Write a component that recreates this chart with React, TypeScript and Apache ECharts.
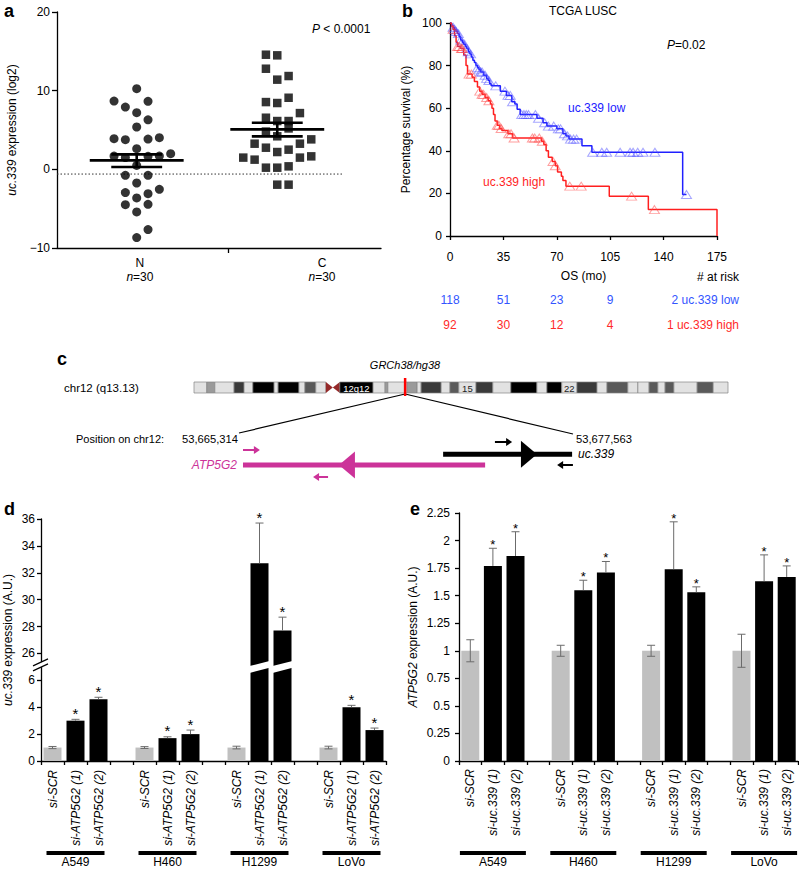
import React, { useEffect, useRef } from 'react';
import * as echarts from 'echarts';

const FONT = '"Liberation Sans", Arial, Helvetica, sans-serif';

/* ---------------- panel a : dot plot ---------------- */
const aGroups = ['N', 'C'];
const aCounts = [30, 30];
const nValues = [10.25, 8.68, 8.64, 7.92, 7.2, 6.3, 5.38, 3.9, 3.77, 3.85, 4.03, 2.63, 1.69, 1.49, 1.65, 1.69, 1.99, 0.5, -0.76, -0.76, -1.74, -2.54, -2.96, -3.09, -3.64, -4.49, -4.45, -5.42, -7.66, -8.68];
const nColumns = [0, -2, 1, -1, 0, 1, 0, -2, -1, 1, 2, 0, -2, -1, 1, 2, 3, 0, -1, 1, 0, 2, -1, 1, 0, -1, 1, 0, 1, 0];
const cValues = [14.57, 14.49, 12.79, 11.4, 11.86, 8.55, 8.43, 9.1, 7.15, 6.56, 6.14, 6.14, 4.8, 5.2, 4.2, 3.26, 3.26, 3.81, 2.75, 2.2, 2.5, 1.49, 1.23, 1.49, 1.65, 0.21, 0.21, 0.38, -1.95, -1.95];
const cColumns = [-1, 0, -1, 0, 1, -1, 0, 1, 2, -1, 0, 1, -1, 1, 0, -2, 2, 3, -1, 0, 1, -3, -2, 2, 3, -1, 0, 1, 0, 1];
const aMeans = [1.14, 5.08];
const aSemUpper = [1.9, 5.93];
const aSemLower = [0.29, 4.19];
const aThreshold = -0.6;

/* ---------------- panel b : Kaplan-Meier ---------------- */
const kmGroups = ['uc.339 low', 'uc.339 high'];
const lowTimes = [0, 1, 2, 3, 4, 5, 6, 7, 8, 9, 10, 11, 12, 13, 14, 15, 16, 17, 18, 19, 20, 22, 24, 25, 26, 27, 33, 37, 40.5, 42.5, 44, 46, 57, 61, 63.5, 70, 74, 76, 78, 86.5, 93, 152.5, 155];
const lowSurv = [100, 99, 98, 97, 96, 95, 93.5, 92, 91, 90, 89, 88, 86.5, 85.5, 84, 82.5, 81.5, 80, 79, 78, 77, 75.5, 74, 73, 71.5, 70.5, 68, 66, 63, 62, 59.5, 57, 55.3, 53.2, 51.6, 50.3, 48, 47, 45.5, 42.4, 39.3, 19.5, 19.5];
const highTimes = [0, 1, 2, 3, 4, 5, 7, 9, 10.5, 11.5, 14.5, 16, 18, 19.5, 21, 23, 25, 26.5, 27.5, 28.5, 29.5, 31, 32.5, 34, 38, 41, 60, 61.5, 63, 64.5, 67, 69, 70.5, 73, 74, 76, 104.4, 130, 175];
const highSurv = [100, 98.5, 97, 94, 91, 89, 88, 85, 80, 76, 74.5, 72.5, 70, 68, 66.5, 65, 63.5, 62, 60, 57, 54, 52, 50.5, 49.5, 48, 46, 44.5, 43, 40, 37, 35, 33, 30, 28, 26, 23.4, 18.7, 12.4, 0];
const lowCensored = [2, 3, 4, 5.5, 7, 8, 9.5, 11, 12, 13.5, 18, 19, 20, 21, 23, 24, 25.5, 30, 36, 38, 39.5, 41, 47, 48.5, 50, 51.5, 56, 58, 62, 64.5, 68, 71, 72.5, 75, 77, 79, 81, 83, 93.5, 99.5, 102.7, 111.5, 118, 120, 123, 126.5, 134.3, 155];
const highCensored = [2, 5, 6, 7.5, 8, 12.5, 14, 19.5, 21, 22, 24, 25.5, 31, 32, 33.5, 38.5, 40, 42, 54, 55.5, 58.5, 60.5, 67.5, 69, 78.5, 86, 119, 134];
const riskTimes = [0, 35, 70, 105, 140];
const riskLow = [118, 51, 23, 9, 2];
const riskHigh = [92, 30, 12, 4, 1];

/* ---------------- panel c : locus ---------------- */
const ideoStart = [0, 3.2, 5.2, 10.0, 12.5, 14.7, 20.0, 21.0, 26.2, 27.7, 30.4, 32.9, 36.4, 44.7, 47.7, 48.4, 53.2, 55.7, 56.7, 61.7, 63.9, 66.1, 70.4, 74.6, 79.1, 85.6, 88.1, 91.8, 95.6, 100.6, 103.1, 108.3, 110.8, 113.6, 115.8, 117.6, 119.8, 125.6, 129.6];
const ideoEnd = [3.2, 5.2, 10.0, 12.5, 14.7, 20.0, 21.0, 26.2, 27.7, 30.4, 32.9, 36.4, 44.7, 47.7, 48.4, 53.2, 55.7, 56.7, 61.7, 63.9, 66.1, 70.4, 74.6, 79.1, 85.6, 88.1, 91.8, 95.6, 100.6, 103.1, 108.3, 110.8, 113.6, 115.8, 117.6, 119.8, 125.6, 129.6, 133.3];
// 0 gneg, 1 gpos25, 2 gpos50, 3 gpos75, 4 gpos100, 5 acen
const ideoStain = [0, 1, 0, 3, 0, 4, 0, 4, 0, 2, 0, 5, 4, 0, 1, 0, 1, 0, 3, 0, 2, 0, 3, 0, 4, 0, 4, 0, 3, 0, 2, 0, 0, 2, 0, 2, 0, 2, 0];
const ideoLabel = ['', '', '', '', '', '', '', '', '', '', '', '', '12q12', '', '', '', '', '', '', '', '', '15', '', '', '', '', '', '22', '', '', '', '', '', '', '', '', '', '', ''];
const ideoLength = 133.3;
const ideoMarkPos = 52.7;
const geneAxisMin = 53665314;
const geneAxisMax = 53677563;
const geneNames = ['ATP5G2', 'uc.339'];
const geneStart = [53665460, 53672800];
const geneEnd = [53674340, 53677530];
const geneArrowTip = [53668980, 53676240];
const geneStrand = [-1, 1];
const primerFrom = [53665460, 53668580, 53674700, 53677560];
const primerTo = [53666080, 53668030, 53675330, 53676980];
const primerGene = [0, 0, 1, 1];

/* ---------------- panels d / e : bars ---------------- */
const cellLines = ['A549', 'H460', 'H1299', 'LoVo'];
const dTreatments = ['si-SCR', 'si-ATP5G2 (1)', 'si-ATP5G2 (2)'];
const dMeans = [[1.0, 3.0, 4.6], [1.0, 1.7, 2.0], [1.0, 32.7, 27.7], [1.0, 4.0, 2.3]];
const dErrors = [[0.08, 0.1, 0.14], [0.07, 0.1, 0.3], [0.1, 3.0, 1.0], [0.1, 0.14, 0.15]];
const dSignificant = [[0, 1, 1], [0, 1, 1], [0, 1, 1], [0, 1, 1]];
const dTickValues = [0, 2, 4, 6, 26, 28, 30, 32, 34, 36];
const eTreatments = ['si-SCR', 'si-uc.339 (1)', 'si-uc.339 (2)'];
const eMeans = [[1.0, 1.77, 1.86], [1.0, 1.55, 1.71], [1.0, 1.74, 1.53], [1.0, 1.63, 1.67]];
const eErrors = [[0.1, 0.16, 0.22], [0.05, 0.09, 0.1], [0.05, 0.43, 0.05], [0.15, 0.24, 0.1]];
const eSignificant = [[0, 1, 1], [0, 1, 1], [0, 1, 1], [0, 1, 1]];

/* ---------------- styling / layout ---------------- */
const BLUE = '#2020ff';
const RED = '#ff1f1f';
const BLUE_TXT = '#3355ff';
const RED_TXT = '#ff2a2a';
const MAGENTA = '#cc3399';
const GREY_BAR = '#c0c0c0';
const ERR = '#6b6b6b';
const STAIN = ['#e2e2e2', '#9a9a9a', '#5a5a5a', '#3a3a3a', '#000000'];
const ACEN = '#952a2a';

const A_XMIN = 0.433, A_XMAX = 2.738, A_COL = 0.0806, A_MEAN_HALF = 0.334, A_SEM_HALF = 0.181;
const A_TICK = 1.649, A_LABEL_POS = [1.023, 2.318], A_THRESH_END = 2.467;
const GENE_ROWS = [30, 19.3];
const PRIMER_ROWS = [15, 42, 7, 30];

// broken axis for panel d: values above the break are shifted down
const BREAK_AT = 7, BREAK_SHIFT = 18;
const dDisp = (v: number) => (v <= BREAK_AT ? v : v - BREAK_SHIFT);
const dReal = (d: number) => (d <= BREAK_AT ? d : d + BREAK_SHIFT);

const survAt = (T: number[], S: number[], t: number) => {
  let s = S[0];
  for (let i = 0; i < T.length; i++) if (T[i] <= t) s = S[i];
  return s;
};

function categoriesFor(treatments: string[]) {
  const out: string[] = [];
  cellLines.forEach((_, g) => {
    treatments.forEach((t) => out.push(t));
    if (g < cellLines.length - 1) out.push('');
  });
  return out;
}

const baseAxis = (gridIndex: number) => ({
  gridIndex,
  nameMoveOverlap: false,
  axisLine: { show: true, onZero: false, lineStyle: { color: '#000', width: 1.3 } },
  axisTick: { show: true, length: 4, lineStyle: { color: '#000', width: 1.3 } },
  axisLabel: { color: '#000', fontSize: 12, fontFamily: FONT },
  splitLine: { show: false },
});

const italicRich = { i: { fontStyle: 'italic', fontSize: 12, fontFamily: FONT, color: '#000' } };

function errorRenderer(capHalf: number, starGap: number, starSize: number) {
  return (params: any, api: any) => {
    const idx = api.value(0);
    const m = api.coord([idx, api.value(1)]);
    const t = api.coord([idx, api.value(2)]);
    const b = api.coord([idx, api.value(3)]);
    const ctl = api.value(4) === 1;
    const sig = api.value(5) === 1;
    const x = m[0];
    const st = { stroke: ERR, lineWidth: 1 };
    const ch: any[] = [
      { type: 'line', shape: { x1: x, y1: ctl ? b[1] : m[1], x2: x, y2: t[1] }, style: st },
      { type: 'line', shape: { x1: x - capHalf, y1: t[1], x2: x + capHalf, y2: t[1] }, style: st },
    ];
    if (ctl) ch.push({ type: 'line', shape: { x1: x - capHalf, y1: b[1], x2: x + capHalf, y2: b[1] }, style: st });
    if (sig)
      ch.push({
        type: 'text',
        style: { text: '*', x, y: t[1] - starGap, align: 'center', verticalAlign: 'middle', fill: '#000', fontSize: starSize, fontFamily: FONT },
      });
    return { type: 'group', children: ch };
  };
}

function groupRenderer(halfWidth: number, lineDy: number, textDy: number) {
  return (params: any, api: any) => {
    const p = api.coord([api.value(0), 0]);
    return {
      type: 'group',
      children: [
        { type: 'line', shape: { x1: p[0] - halfWidth, y1: p[1] + lineDy, x2: p[0] + halfWidth, y2: p[1] + lineDy }, style: { stroke: '#000', lineWidth: 4 } },
        { type: 'text', style: { text: cellLines[params.dataIndex], x: p[0], y: p[1] + textDy, align: 'center', verticalAlign: 'middle', fill: '#000', fontSize: 12, fontFamily: FONT } },
      ],
    };
  };
}

function barSeriesData(means: number[][], disp: (v: number) => number) {
  const out: any[] = [];
  means.forEach((grp, g) => {
    grp.forEach((v, k) => out.push({ value: disp(v), itemStyle: { color: k === 0 ? GREY_BAR : '#000' } }));
    if (g < means.length - 1) out.push('-');
  });
  return out;
}

function errorData(means: number[][], errs: number[][], sig: number[][], disp: (v: number) => number) {
  const out: number[][] = [];
  means.forEach((grp, g) =>
    grp.forEach((v, k) => {
      const idx = g * 4 + k;
      out.push([idx, disp(v), disp(v + errs[g][k]), disp(v - errs[g][k]), k === 0 ? 1 : 0, sig[g][k]]);
    })
  );
  return out;
}

function buildOption(): any {
  const dCats = categoriesFor(dTreatments);
  const eCats = categoriesFor(eTreatments);
  const groupMid = cellLines.map((_, g) => [g * 4 + 1, 0]);

  const grids = [
    { left: 57, top: 12, width: 324, height: 236 },
    { left: 450, top: 23, width: 267, height: 213 },
    { left: 41, top: 519, width: 345, height: 242 },
    { left: 459, top: 513, width: 339, height: 248 },
    { left: 194, top: 382, width: 534, height: 11 },
    { left: 239, top: 435, width: 334, height: 50 },
  ].map((g) => ({ ...g, containLabel: false, outerBoundsMode: 'none' }));

  const xAxis: any[] = [
    {
      ...baseAxis(0),
      type: 'value',
      min: A_XMIN,
      max: A_XMAX,
      axisTick: { show: true, length: 5, customValues: [A_TICK], lineStyle: { color: '#000', width: 1.3 } },
      axisLabel: {
        color: '#000',
        margin: 8,
        customValues: A_LABEL_POS,
        formatter: (v: number) => {
          const g = v < 1.5 ? 0 : 1;
          return `{t|${aGroups[g]}}\n{i|n}{t|=${aCounts[g]}}`;
        },
        rich: {
          t: { fontSize: 12, fontFamily: FONT, color: '#000', lineHeight: 14 },
          i: { fontSize: 12, fontFamily: FONT, color: '#000', fontStyle: 'italic', lineHeight: 14 },
        },
      },
    },
    {
      ...baseAxis(1),
      type: 'value',
      min: 0,
      max: 175,
      interval: 35,
      axisLabel: { color: '#000', fontSize: 12, fontFamily: FONT, margin: 15 },
      name: 'OS (mo)',
      nameLocation: 'middle',
      nameGap: 34,
      nameTextStyle: { color: '#000', fontSize: 12, fontFamily: FONT },
    },
    {
      ...baseAxis(2),
      type: 'category',
      data: dCats,
      axisTick: { show: true, interval: 0, length: 4, lineStyle: { color: '#000', width: 1.3 } },
      axisLabel: { color: '#000', fontSize: 12, fontFamily: FONT, fontStyle: 'italic', rotate: 90, interval: 0, margin: 9 },
    },
    {
      ...baseAxis(3),
      type: 'category',
      data: eCats,
      axisTick: { show: true, interval: 0, length: 4, lineStyle: { color: '#000', width: 1.3 } },
      axisLabel: { color: '#000', fontSize: 12, fontFamily: FONT, fontStyle: 'italic', rotate: 90, interval: 0, margin: 8 },
    },
    { gridIndex: 4, type: 'value', min: 0, max: ideoLength, show: false },
    { gridIndex: 5, type: 'value', min: geneAxisMin, max: geneAxisMax, show: false },
  ];

  const yAxis: any[] = [
    {
      ...baseAxis(0),
      type: 'value',
      min: -10,
      max: 20,
      interval: 10,
      axisTick: { show: true, length: 5, lineStyle: { color: '#000', width: 1.3 } },
      axisLabel: { color: '#000', fontSize: 12, fontFamily: FONT, margin: 7, formatter: (v: number) => (v < 0 ? '\u2212' + Math.abs(v) : String(v)) },
      name: '{i|uc.339} expression (log2)',
      nameLocation: 'middle',
      nameGap: 39,
      nameTextStyle: { color: '#000', fontSize: 12, fontFamily: FONT, rich: italicRich },
    },
    {
      ...baseAxis(1),
      type: 'value',
      min: 0,
      max: 100,
      interval: 20,
      axisLabel: { color: '#000', fontSize: 12, fontFamily: FONT, margin: 8 },
      name: 'Percentage survival (%)',
      nameLocation: 'middle',
      nameGap: 38,
      nameTextStyle: { color: '#000', fontSize: 12, fontFamily: FONT },
    },
    {
      ...baseAxis(2),
      type: 'value',
      min: 0,
      max: dDisp(dTickValues[dTickValues.length - 1]),
      interval: 2,
      axisLabel: { color: '#000', fontSize: 12, fontFamily: FONT, margin: 6, formatter: (v: number) => String(dReal(v)) },
      name: '{i|uc.339} expression (A.U.)',
      nameLocation: 'middle',
      nameGap: 27,
      nameTextStyle: { color: '#000', fontSize: 12, fontFamily: FONT, rich: italicRich },
    },
    {
      ...baseAxis(3),
      type: 'value',
      min: 0,
      max: 2.25,
      interval: 0.25,
      axisLabel: { color: '#000', fontSize: 12, fontFamily: FONT, margin: 9, formatter: (v: number) => String(+v.toFixed(2)) },
      name: '{i|ATP5G2} expression (A.U.)',
      nameLocation: 'middle',
      nameGap: 40,
      nameTextStyle: { color: '#000', fontSize: 12, fontFamily: FONT, rich: italicRich },
    },
    { gridIndex: 4, type: 'value', min: 0, max: 1, show: false },
    { gridIndex: 5, type: 'value', min: 0, max: 50, inverse: true, show: false },
  ];

  const series: any[] = [
    /* panel a */
    {
      type: 'scatter', xAxisIndex: 0, yAxisIndex: 0, symbol: 'circle', symbolSize: 9, z: 3,
      itemStyle: { color: '#000' },
      data: nValues.map((v, i) => [1 + nColumns[i] * A_COL, v]),
    },
    {
      type: 'scatter', xAxisIndex: 0, yAxisIndex: 0, symbol: 'rect', symbolSize: 8.5, z: 3,
      itemStyle: { color: '#000' },
      data: cValues.map((v, i) => [2 + cColumns[i] * A_COL, v]),
    },
    {
      type: 'line', xAxisIndex: 0, yAxisIndex: 0, symbol: 'none', z: 1,
      lineStyle: { color: '#333', width: 1, type: [1.5, 2] },
      data: [[A_XMIN, aThreshold], [A_THRESH_END, aThreshold]],
    },
    {
      type: 'custom', xAxisIndex: 0, yAxisIndex: 0, z: 5, clip: false,
      encode: { x: 0, y: [1, 2, 3] },
      data: aMeans.map((m, i) => [i + 1, m, aSemUpper[i], aSemLower[i]]),
      renderItem: (params: any, api: any) => {
        const g = api.value(0);
        const m = api.value(1), hi = api.value(2), lo = api.value(3);
        const P = (x: number, y: number) => api.coord([x, y]);
        const st = { stroke: '#000', lineWidth: 2.6 };
        const seg = (a: number[], b: number[]) => ({ type: 'line', shape: { x1: a[0], y1: a[1], x2: b[0], y2: b[1] }, style: st });
        return {
          type: 'group',
          children: [
            seg(P(g - A_MEAN_HALF, m), P(g + A_MEAN_HALF, m)),
            seg(P(g - A_SEM_HALF, hi), P(g + A_SEM_HALF, hi)),
            seg(P(g - A_SEM_HALF, lo), P(g + A_SEM_HALF, lo)),
            seg(P(g, hi), P(g, lo)),
          ],
        };
      },
    },
    /* panel b */
    {
      type: 'line', xAxisIndex: 1, yAxisIndex: 1, step: 'end', symbol: 'none', z: 3,
      lineStyle: { color: BLUE, width: 1.5 },
      data: lowTimes.map((t, i) => [t, lowSurv[i]]),
    },
    {
      type: 'line', xAxisIndex: 1, yAxisIndex: 1, step: 'end', symbol: 'none', z: 3,
      lineStyle: { color: RED, width: 1.5 },
      data: highTimes.map((t, i) => [t, highSurv[i]]),
    },
    {
      type: 'scatter', xAxisIndex: 1, yAxisIndex: 1, symbol: 'triangle', symbolSize: [10, 8], z: 4,
      itemStyle: { color: 'rgba(0,0,0,0)', borderColor: 'rgba(70,70,255,0.6)', borderWidth: 1 },
      data: lowCensored.map((t) => [t, survAt(lowTimes, lowSurv, t)]),
    },
    {
      type: 'scatter', xAxisIndex: 1, yAxisIndex: 1, symbol: 'triangle', symbolSize: [10, 8], z: 4,
      itemStyle: { color: 'rgba(0,0,0,0)', borderColor: 'rgba(255,70,70,0.65)', borderWidth: 1 },
      data: highCensored.map((t) => [t, survAt(highTimes, highSurv, t)]),
    },
    {
      type: 'custom', xAxisIndex: 1, yAxisIndex: 1, clip: false, z: 5,
      encode: { x: 0, y: 1 },
      data: riskTimes.map((t) => [t, 0]),
      renderItem: (params: any, api: any) => {
        const i = params.dataIndex;
        const p = api.coord([api.value(0), 0]);
        const last = i === riskTimes.length - 1;
        const xr = api.coord([175, 0])[0] + 22;
        const mk = (txt: string, dy: number, fill: string) => ({
          type: 'text',
          style: { text: txt, x: last ? xr : p[0], y: p[1] + dy, align: last ? 'right' : 'center', verticalAlign: 'middle', fill, fontSize: 12, fontFamily: FONT },
        });
        return {
          type: 'group',
          children: [
            mk(last ? `${riskLow[i]} ${kmGroups[0]}` : String(riskLow[i]), 64, BLUE_TXT),
            mk(last ? `${riskHigh[i]} ${kmGroups[1]}` : String(riskHigh[i]), 89, RED_TXT),
          ],
        };
      },
    },
    /* panel d */
    {
      type: 'bar', xAxisIndex: 2, yAxisIndex: 2, barWidth: 18, z: 2,
      data: barSeriesData(dMeans, dDisp),
    },
    {
      type: 'custom', xAxisIndex: 2, yAxisIndex: 2, clip: false, z: 4,
      encode: { x: 0, y: [1, 2, 3] },
      data: errorData(dMeans, dErrors, dSignificant, dDisp),
      renderItem: errorRenderer(4, 6, 15),
    },
    {
      type: 'custom', xAxisIndex: 2, yAxisIndex: 2, clip: false, z: 6,
      encode: { x: 0, y: 1 },
      data: (() => {
        const out: number[][] = [];
        dMeans.forEach((grp, g) => grp.forEach((v, k) => { if (v > BREAK_AT) out.push([g * 4 + k, BREAK_AT]); }));
        return out;
      })(),
      renderItem: (params: any, api: any) => {
        const c = api.coord([api.value(0), api.value(1)]);
        const hw = 10, sl = 2.6, hh = 3.4;
        return {
          type: 'polygon',
          shape: { points: [[c[0] - hw, c[1] + sl - hh], [c[0] + hw, c[1] - sl - hh], [c[0] + hw, c[1] - sl + hh], [c[0] - hw, c[1] + sl + hh]] },
          style: { fill: '#fff' },
        };
      },
    },
    {
      type: 'custom', xAxisIndex: 2, yAxisIndex: 2, clip: false, z: 6,
      encode: { x: 0, y: 1 },
      data: [[0, BREAK_AT]],
      renderItem: (params: any, api: any) => {
        const x = params.coordSys.x;
        const y = api.coord([0, BREAK_AT])[1];
        const st = { stroke: '#000', lineWidth: 1.2 };
        return {
          type: 'group',
          children: [
            { type: 'polygon', shape: { points: [[x - 8, y - 1], [x + 7, y - 8], [x + 7, y - 3], [x - 8, y + 4]] }, style: { fill: '#fff' } },
            { type: 'line', shape: { x1: x - 8, y1: y - 1, x2: x + 7, y2: y - 8 }, style: st },
            { type: 'line', shape: { x1: x - 8, y1: y + 4, x2: x + 7, y2: y - 3 }, style: st },
          ],
        };
      },
    },
    {
      type: 'custom', xAxisIndex: 2, yAxisIndex: 2, clip: false, z: 5,
      encode: { x: 0, y: 1 },
      data: groupMid,
      renderItem: groupRenderer(29, 92, 101),
    },
    /* panel e */
    {
      type: 'bar', xAxisIndex: 3, yAxisIndex: 3, barWidth: 18, z: 2,
      data: barSeriesData(eMeans, (v) => v),
    },
    {
      type: 'custom', xAxisIndex: 3, yAxisIndex: 3, clip: false, z: 4,
      encode: { x: 0, y: [1, 2, 3] },
      data: errorData(eMeans, eErrors, eSignificant, (v) => v),
      renderItem: errorRenderer(4, 3.5, 13),
    },
    {
      type: 'custom', xAxisIndex: 3, yAxisIndex: 3, clip: false, z: 5,
      encode: { x: 0, y: 1 },
      data: groupMid,
      renderItem: groupRenderer(33, 92, 101),
    },
    /* panel c : ideogram */
    {
      type: 'custom', xAxisIndex: 4, yAxisIndex: 4, clip: false, z: 3,
      encode: { x: [0, 1], y: 2 },
      data: ideoStart.map((s, i) => [s, ideoEnd[i], ideoStain[i]]),
      renderItem: (params: any, api: any) => {
        const i = params.dataIndex;
        const p0 = api.coord([api.value(0), 1]);
        const p1 = api.coord([api.value(1), 0]);
        const st = api.value(2);
        const x0 = p0[0], y0 = p0[1], x1 = p1[0], y1 = p1[1];
        if (st === 5) {
          const xm = (x0 + x1) / 2, ym = (y0 + y1) / 2;
          return {
            type: 'group',
            children: [
              { type: 'polygon', shape: { points: [[x0, y0], [x0, y1], [xm, ym]] }, style: { fill: ACEN } },
              { type: 'polygon', shape: { points: [[x1, y0], [x1, y1], [xm, ym]] }, style: { fill: ACEN } },
            ],
          };
        }
        const ch: any[] = [
          { type: 'rect', shape: { x: x0, y: y0, width: x1 - x0, height: y1 - y0 }, style: { fill: STAIN[st], stroke: '#858585', lineWidth: 0.7 } },
        ];
        if (ideoLabel[i])
          ch.push({
            type: 'text',
            style: { text: ideoLabel[i], x: (x0 + x1) / 2, y: (y0 + y1) / 2 + 0.5, align: 'center', verticalAlign: 'middle', fill: st >= 3 ? '#fff' : '#222', fontSize: 9.5, fontFamily: FONT },
          });
        return { type: 'group', children: ch };
      },
    },
    {
      type: 'custom', xAxisIndex: 4, yAxisIndex: 4, clip: false, z: 6,
      encode: { x: 0, y: 1 },
      data: [[ideoMarkPos, 0]],
      renderItem: (params: any, api: any) => {
        const t = api.coord([api.value(0), 1]);
        const b = api.coord([api.value(0), 0]);
        return { type: 'line', shape: { x1: t[0], y1: t[1] - 4, x2: b[0], y2: b[1] + 3 }, style: { stroke: '#ff0000', lineWidth: 2.5 } };
      },
    },
    /* panel c : genes */
    {
      type: 'custom', xAxisIndex: 5, yAxisIndex: 5, clip: false, z: 3,
      encode: { x: [0, 1, 2], y: 3 },
      data: geneNames.map((_, i) => [geneStart[i], geneEnd[i], geneArrowTip[i], GENE_ROWS[i]]),
      renderItem: (params: any, api: any) => {
        const i = params.dataIndex;
        const row = api.value(3);
        const col = i === 0 ? MAGENTA : '#000';
        const a = api.coord([api.value(0), row]);
        const b = api.coord([api.value(1), row]);
        const tip = api.coord([api.value(2), row]);
        const dir = geneStrand[i];
        const ch: any[] = [
          { type: 'line', shape: { x1: a[0], y1: a[1], x2: b[0], y2: b[1] }, style: { stroke: col, lineWidth: 5 } },
          { type: 'polygon', shape: { points: [[tip[0], tip[1]], [tip[0] - dir * 16, tip[1] - 13.5], [tip[0] - dir * 16, tip[1] + 13.5]] }, style: { fill: col } },
          {
            type: 'text',
            style: {
              text: geneNames[i], x: dir < 0 ? a[0] - 6 : b[0] + 6, y: a[1],
              align: dir < 0 ? 'right' : 'left', verticalAlign: 'middle', fill: col, fontSize: 12, fontStyle: 'italic', fontFamily: FONT,
            },
          },
        ];
        if (i === 0) {
          const l = api.coord([geneAxisMin, 4]);
          const r = api.coord([geneAxisMax, 4]);
          const fmt = (n: number) => n.toLocaleString('en-US');
          ch.push({ type: 'text', style: { text: fmt(geneAxisMin), x: l[0] - 1, y: l[1], align: 'right', verticalAlign: 'middle', fill: '#000', fontSize: 11.2, fontFamily: FONT } });
          ch.push({ type: 'text', style: { text: fmt(geneAxisMax), x: r[0] + 3, y: r[1], align: 'left', verticalAlign: 'middle', fill: '#000', fontSize: 11.2, fontFamily: FONT } });
        }
        return { type: 'group', children: ch };
      },
    },
    {
      type: 'custom', xAxisIndex: 5, yAxisIndex: 5, clip: false, z: 3,
      encode: { x: [0, 1], y: 2 },
      data: primerFrom.map((f, i) => [f, primerTo[i], PRIMER_ROWS[i]]),
      renderItem: (params: any, api: any) => {
        const i = params.dataIndex;
        const col = primerGene[i] === 0 ? MAGENTA : '#000';
        const a = api.coord([api.value(0), api.value(2)]);
        const b = api.coord([api.value(1), api.value(2)]);
        const dir = Math.sign(b[0] - a[0]);
        return {
          type: 'group',
          children: [
            { type: 'line', shape: { x1: a[0], y1: a[1], x2: b[0] - dir * 4, y2: b[1] }, style: { stroke: col, lineWidth: 2 } },
            { type: 'polygon', shape: { points: [[b[0], b[1]], [b[0] - dir * 6, b[1] - 4], [b[0] - dir * 6, b[1] + 4]] }, style: { fill: col } },
          ],
        };
      },
    },
  ];

  return {
    animation: false,
    backgroundColor: '#fff',
    textStyle: { fontFamily: FONT },
    grid: grids,
    xAxis,
    yAxis,
    series,
  };
}

function buildGraphic(chart: any) {
  const mark = chart.convertToPixel({ gridIndex: 4 }, [ideoMarkPos, 0]);
  const gl = chart.convertToPixel({ gridIndex: 5 }, [geneAxisMin, -2]);
  const gr = chart.convertToPixel({ gridIndex: 5 }, [geneAxisMax, -1]);
  const T = (x: number, y: number, text: string, o: any = {}) => ({
    type: 'text',
    x,
    y,
    silent: true,
    style: {
      text,
      align: o.align || 'left',
      verticalAlign: 'middle',
      fill: o.fill || '#000',
      fontSize: o.size || 12,
      fontFamily: FONT,
      fontWeight: o.weight || 'normal',
      fontStyle: o.style || 'normal',
      rich: o.rich,
    },
  });
  const richI = (size: number) => ({
    i: { fontStyle: 'italic', fontSize: size, fontFamily: FONT, fill: '#000' },
    n: { fontSize: size, fontFamily: FONT, fill: '#000' },
  });
  return [
    T(4, 11, 'a', { size: 18, weight: 'bold' }),
    T(312, 29, '{i|P}{n| < 0.0001}', { rich: richI(12) }),
    T(402, 11, 'b', { size: 18, weight: 'bold' }),
    T(583, 11, 'TCGA LUSC', { align: 'center' }),
    T(667, 45, '{i|P}{n|=0.02}', { rich: richI(12) }),
    T(568, 108, kmGroups[0], { fill: BLUE }),
    T(483, 182, kmGroups[1], { fill: RED }),
    T(739, 277, '# at risk', { align: 'right' }),
    T(57, 359, 'c', { size: 18, weight: 'bold' }),
    T(405, 365, 'GRCh38/hg38', { align: 'center', size: 11, style: 'italic' }),
    T(64, 388, 'chr12 (q13.13)', { size: 11.5 }),
    T(76, 439, 'Position on chr12:', { size: 11 }),
    T(4, 509, 'd', { size: 18, weight: 'bold' }),
    T(410, 509, 'e', { size: 18, weight: 'bold' }),
    { type: 'line', silent: true, shape: { x1: mark[0], y1: mark[1] + 1, x2: gl[0], y2: gl[1] }, style: { stroke: '#000', lineWidth: 1.2 } },
    { type: 'line', silent: true, shape: { x1: mark[0], y1: mark[1] + 1, x2: gr[0], y2: gr[1] }, style: { stroke: '#000', lineWidth: 1.2 } },
  ];
}

export default function App() {
  const ref = useRef<HTMLDivElement>(null);
  useEffect(() => {
    const chart = echarts.init(ref.current as HTMLDivElement, undefined, { renderer: 'svg' });
    chart.setOption(buildOption());
    chart.setOption({ graphic: buildGraphic(chart) });
    return () => chart.dispose();
  }, []);
  return <div ref={ref} style={{ position: 'fixed', left: 0, top: 0, width: 799, height: 869, background: '#fff' }} />;
}
